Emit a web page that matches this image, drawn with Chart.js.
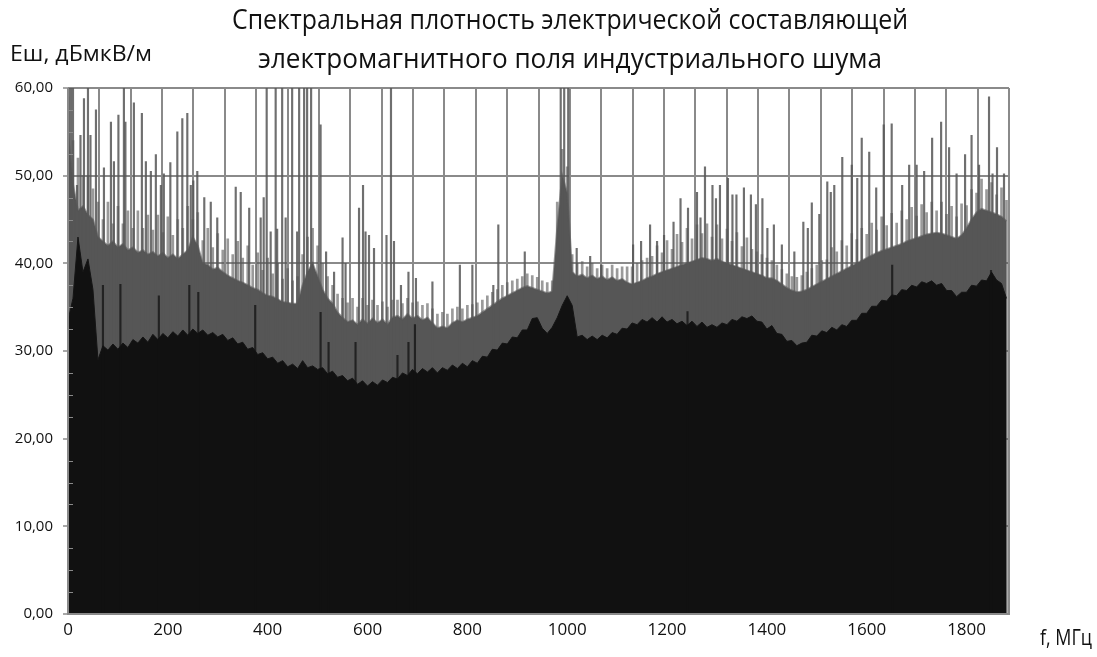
<!DOCTYPE html>
<html><head><meta charset="utf-8">
<script src="https://cdn.jsdelivr.net/npm/chart.js@4.4.0/dist/chart.umd.min.js"></script>
<style>html,body{margin:0;padding:0;background:#fff}canvas{display:block}</style>
</head><body>
<canvas id="c" width="1097" height="657"></canvas>
<script>
// ---- data (frequency, MHz) ----
const freqs = [0,10,20,30,40,50,60,70,80,90,100,110,120,130,140,150,160,170,180,190,
200,210,220,230,240,250,260,270,280,290,300,310,320,330,340,350,360,370,380,390,
400,410,420,430,440,450,460,470,480,490,500,510,520,530,540,550,560,570,580,590,
600,610,620,630,640,650,660,670,680,690,700,710,720,730,740,750,760,770,780,790,
800,810,820,830,840,850,860,870,880,890,900,910,920,930,940,950,960,970,980,990,
1000,1010,1020,1030,1040,1050,1060,1070,1080,1090,1100,1110,1120,1130,1140,1150,1160,1170,1180,1190,
1200,1210,1220,1230,1240,1250,1260,1270,1280,1290,1300,1310,1320,1330,1340,1350,1360,1370,1380,1390,
1400,1410,1420,1430,1440,1450,1460,1470,1480,1490,1500,1510,1520,1530,1540,1550,1560,1570,1580,1590,
1600,1610,1620,1630,1640,1650,1660,1670,1680,1690,1700,1710,1720,1730,1740,1750,1760,1770,1780,1790,
1800,1810,1820,1830,1840,1850,1860,1870,1880];

// upper (grey) spectrum: solid level, dBµV/m
const grayLevel = [55,49,46,46.5,45.5,45,43,42.5,42,42.5,
41.8,42.2,41.5,41.8,41.2,41.5,41,41.3,40.8,41.2,
40.6,41,40.5,41,41.5,43,42,40,39.8,39.3,
39.5,39,38.6,38.3,38,37.8,37.5,37.2,37,36.6,
36.3,36.2,35.9,35.6,35.5,35.4,35.4,
37.5,39,40,38.5,37,36,35.4,34.4,33.8,33.3,
33.5,33,33.6,33.1,33.7,33.2,33.6,33,33.8,34,
33.6,34.2,33.7,34,33.5,33.8,33.2,32.6,32.8,32.6,
33.2,33.5,33.3,33.6,33.8,34,34.4,34.8,35.2,35.6,
36,36.3,36.6,36.9,37.2,37.4,37.2,37,36.8,36.6,
36.8,44,50,48,39,38.5,38.7,38.3,38.6,38.2,
38.5,38.1,38.4,38,38.2,37.8,37.6,37.8,38,38.3,
38.5,38.8,39,39.2,39.4,39.6,39.8,40,40.2,40.4,
40.6,40.5,40.3,40.5,40.2,40,39.8,39.6,39.4,39.2,
39,38.8,38.6,38.3,38.3,
38,37.6,37.2,36.9,36.7,36.8,37,37.3,37.6,37.9,
38.2,38.5,38.8,39.1,39.4,39.7,40,40.3,40.6,40.9,
41.2,41.4,41.6,41.8,42,42.2,42.5,42.7,42.9,43.1,
43.3,43.4,43.5,43.4,43.2,43,42.8,43.2,44,45,
45.8,46.2,46,45.8,45.6,45.3,44.8];

// upper (grey) spectrum: tops of the dense noise hairs, dBµV/m
const grayFringe = [59,54,52,50,50,48.5,47,
45,47,44.5,46.5,44.5,46,44,46,44,45.5,
43.8,45.5,43.5,45.3,43.2,45,44,46.5,45,45.8,
42.6,44,41.8,43.4,41.5,42.8,41,42.5,40.6,42,
39.8,41.2,39.2,40.6,38.8,40,38.2,39.4,38,
38.5,
41,43,44,42,40,38.5,37.5,36.5,36,35.5,
36,35,36,35.2,35.8,35.2,35.6,35,35.8,35.8,
35.4,36,35.5,35.6,35.2,35.4,34.8,34.2,34.4,34.2,
34.8,35,34.8,35.2,35.3,35.5,35.8,36.3,36.7,37,
37.5,37.8,38,38.2,38.5,38.8,38.6,38.4,38,37.8,
38,47,53,51,41,40,40.2,39.6,40,39.4,
39.8,39.4,39.8,39.4,39.6,39.6,39.6,40,40.3,40.6,
40.8,42,41.2,42.6,41.6,43.3,42.4,44,42.8,44.4,
43.4,44.5,43,44.4,42.8,43.9,42.5,43.5,41.9,42.9,
41.6,41.3,41,40.6,
40.3,
39.8,39.3,38.8,38.5,38.4,38.6,39,39.4,39.8,40.3,
40.4,41.8,41.3,42.6,42,43.4,42.7,44,43.3,44.6,
43.8,45.3,44.3,45.7,44.6,46,45,46.4,45.4,46.7,
45.8,47,46,47,45.6,46.5,45.3,46.8,46.6,48.4,
48,49.6,48.4,49.2,47.8,48.6,47.2];

// lower (black) spectrum level, dBµV/m
const blackLevel = [33.5,36,43,39,40.5,37,29,30.6,30.1,30.8,
30.2,30.9,30.4,31.3,30.9,31.6,31,31.9,31.3,32,
31.5,32.2,31.7,32.4,31.8,32.5,32,32.4,31.8,32.1,
31.6,31.9,31.2,31.5,30.8,31,30.2,30.4,29.6,29.8,
29.1,29.3,28.6,28.9,28.2,28.5,28,
28.9,28.1,28.3,27.9,28.1,27.4,27.7,27,27.2,26.6,
26.9,26.2,26.6,26,26.5,26.1,26.7,26.4,27,26.8,
27.5,27.2,27.9,27.4,28,27.6,28.1,27.5,28.1,27.8,
28.4,28,28.6,28.2,28.9,28.6,29.4,29.3,30.2,30.1,
30.9,30.8,31.6,31.5,32.4,32.4,33.7,33.8,32.6,32,
32.7,33.8,35.2,36.3,35.2,31.6,31.8,31.3,31.7,31.3,
31.8,31.5,32.1,31.9,32.6,32.5,33.2,33,33.6,33.3,
33.8,33.3,33.9,33.3,33.6,33.1,33.4,32.9,33.4,32.8,
33.3,32.7,33,32.7,33.2,33,33.6,33.4,33.9,33.7,
34,33.4,33.3,32.5,32.9,
32,31.9,31.1,31.2,30.6,30.9,31,31.8,31.7,32.3,
32.1,32.7,32.4,33,32.8,33.5,33.5,34.3,34.3,35.1,
35.1,35.8,35.7,36.4,36.3,37,36.9,37.5,37.3,37.9,
37.7,38,37.5,37.7,36.9,36.9,36.2,36.7,36.7,37.5,
37.4,38.1,38,39,38.1,37.7,36];

// narrow peaks of the grey spectrum [MHz, dBµV/m]
const graySpikes = [[2,62],[6,62],[10,62],[18,48.9],[25,54.6],[32,58.8],[40,62],[45,54.6],[56,57.5],[72,50.9],
[86,56.1],[92,51.6],[101,56.9],[112,62],[115,56.1],[132,58.3],[148,57.1],[156,51.6],[166,50.5],[176,52.4],
[186,48.9],[192,50.2],[205,51.5],[219,55],[229,56.5],[239,57.1],[246,48.9],[251,49.4],[259,50.5],[273,47.5],
[286,47],[299,45.2],[336,48.7],[346,48.1],[363,46.3],[386,45.2],[392,47.5],[398,62],[406,43.6],[416,62],
[419,43.9],[429,62],[436,45.2],[449,62],[459,43.6],[463,62],[473,62],[479,62],[487,62],[506,55.8],
[517,41.3],[533,39],[550,42.9],[556,40],[583,46.3],[591,48.9],[596,43.6],[603,43.2],[613,41.7],[638,43.2],
[647,62],[653,42.5],[667,37.5],[682,39],[697,38.3],[730,37.9],[785,39.8],[810,39.8],[852,37.5],[862,44.4],
[915,41.3],[987,62],[994,62],[1002,62],[1019,41.7],[1046,40.8],[1068,39.8],[1132,42.1],[1148,42.5],[1166,44.4],
[1180,42.5],[1194,43.2],[1213,44.7],[1227,47.4],[1242,46.3],[1260,48.1],[1267,45.2],[1276,51],[1291,48.9],[1298,47.4],
[1306,48.9],[1322,49.7],[1331,47.8],[1339,47.8],[1354,48.6],[1368,47.8],[1378,46.7],[1391,47.4],[1401,44],[1414,44.4],
[1430,42.1],[1455,41.3],[1473,44.7],[1482,44],[1490,46.9],[1505,45.6],[1521,49.3],[1528,48.1],[1535,48.9],[1551,52.1],
[1570,51.2],[1581,49.7],[1590,54.3],[1605,52.7],[1619,48.6],[1634,55.8],[1650,55.9],[1671,48.9],[1685,51.2],[1700,51.2],
[1715,50.5],[1731,54.3],[1749,56.1],[1765,53.2],[1780,50.2],[1797,52.4],[1810,54.6],[1825,51.2],[1845,59],[1852,50.2],
[1861,53.2],[1875,50.2]];

// narrow peaks of the black spectrum [MHz, dBµV/m]
const blackSpikes = [[70,37.5],[105,37.6],[182,36.3],[243,37.5],[261,36.7],[375,35.2],[506,34.4],[522,31],
[576,31],[660,29.5],[682,31],[695,33],[1241,34.5],[1651,39.8],[1849,39.2]];

const xTickLabels = [0,200,400,600,800,1000,1200,1400,1600,1800];
const yTickValues = [0,10,20,30,40,50,60];
const xMax = 1885;
const xGridDivisions = 30;
const yMinorStep = 2.5;

const titleLines = ['Спектральная плотность электрической составляющей', 'электромагнитного поля индустриального шума'];
const yTitle = 'Еш, дБмкВ/м';
const xTitle = 'f, МГц';

// ---- drawing ----
const FONT = "'Open Sans', 'Noto Sans', 'DejaVu Sans', sans-serif";
const GRID = '#8a8a8a';
const toXY = (xs, ys) => xs.map((x, i) => ({x: x, y: ys[i]}));
const pairs = arr => arr.map(p => ({x: p[0], y: p[1]}));
const gridValues = [];
for (let k = 0; k <= xGridDivisions; k++) gridValues.push(k * xMax / xGridDivisions);

function fitText(ctx, text, x, y, size, width, align) {
  ctx.save();
  ctx.font = size + 'px ' + FONT;
  const w = ctx.measureText(text).width;
  ctx.translate(x, y);
  ctx.scale(width / w, 1);
  ctx.textAlign = align;
  ctx.textBaseline = 'alphabetic';
  ctx.fillStyle = '#111';
  ctx.fillText(text, 0, 0);
  ctx.restore();
}

const decor = {
  id: 'decor',
  afterDatasetsDraw(chart) {
    const ctx = chart.ctx, a = chart.chartArea, y = chart.scales.y;
    ctx.save();
    ctx.strokeStyle = GRID;
    ctx.lineWidth = 1;
    for (let v = yMinorStep; v < 60; v += yMinorStep) {
      if (Math.abs(v % 10) < 1e-6) continue;
      const py = Math.round(y.getPixelForValue(v)) + 0.5;
      ctx.beginPath(); ctx.moveTo(a.left, py); ctx.lineTo(a.left + 5, py); ctx.stroke();
    }
    ctx.lineWidth = 2;
    ctx.beginPath();
    ctx.moveTo(a.left, a.top); ctx.lineTo(a.left, a.bottom);
    ctx.lineTo(a.right, a.bottom); ctx.lineTo(a.right, a.top);
    ctx.stroke();
    ctx.restore();
  },
  afterDraw(chart) {
    const ctx = chart.ctx;
    fitText(ctx, titleLines[0], 570, 29, 27, 676, 'center');
    fitText(ctx, titleLines[1], 570, 68, 27, 624, 'center');
    fitText(ctx, yTitle, 10, 61, 22, 142, 'left');
    fitText(ctx, xTitle, 1040, 645, 22, 52, 'left');
  }
};

new Chart(document.getElementById('c'), {
  type: 'line',
  data: {
    datasets: [
      {type: 'bar', data: toXY(freqs, grayFringe), backgroundColor: 'rgba(86,86,86,0.6)',
       barThickness: 2, grouped: false, order: 5},
      {type: 'line', data: toXY(freqs, grayLevel), fill: 'origin', backgroundColor: '#565656',
       borderColor: 'rgba(86,86,86,0.6)', borderWidth: 2, pointRadius: 0, tension: 0, order: 4},
      {type: 'bar', data: pairs(graySpikes), backgroundColor: 'rgba(86,86,86,0.85)',
       barThickness: 1.5, grouped: false, order: 3},
      {type: 'line', data: toXY(freqs, blackLevel), fill: 'origin', backgroundColor: '#111111',
       borderColor: '#151515', borderWidth: 1, pointRadius: 0, tension: 0, order: 2},
      {type: 'bar', data: pairs(blackSpikes), backgroundColor: 'rgba(17,17,17,0.75)',
       barThickness: 1.5, grouped: false, order: 1}
    ]
  },
  options: {
    responsive: false,
    animation: false,
    events: [],
    layout: {padding: {left: 0, right: 88, top: 88, bottom: 0}},
    plugins: {legend: {display: false}, title: {display: false}, tooltip: {enabled: false}},
    scales: {
      x: {
        type: 'linear', min: 0, max: xMax, offset: false,
        afterBuildTicks: s => {
          const t = gridValues.map(v => ({value: v, g: true}))
            .concat(xTickLabels.map(v => ({value: v, g: false})));
          t.sort((p, q) => p.value - q.value);
          s.ticks = t;
        },
        afterFit: s => { s.height = 43; },
        grid: {color: c => (c.tick && c.tick.g) ? GRID : 'rgba(0,0,0,0)', lineWidth: 2, drawTicks: false, offset: false},
        border: {display: false},
        ticks: {autoSkip: false, maxRotation: 0, padding: 6, color: '#111',
          font: {family: FONT, size: 17},
          callback: (v, i, t) => t[i].g ? '' : String(v)}
      },
      y: {
        min: 0, max: 60,
        afterBuildTicks: s => { s.ticks = yTickValues.map(v => ({value: v})); },
        afterFit: s => { s.width = 68; },
        grid: {color: GRID, lineWidth: 2, tickLength: 5, tickColor: GRID, tickWidth: 1.5},
        border: {display: false},
        ticks: {padding: 10, color: '#111', font: {family: FONT, size: 15},
          callback: v => v.toFixed(2).replace('.', ',')}
      }
    }
  },
  plugins: [decor]
});
</script>
</body></html>
